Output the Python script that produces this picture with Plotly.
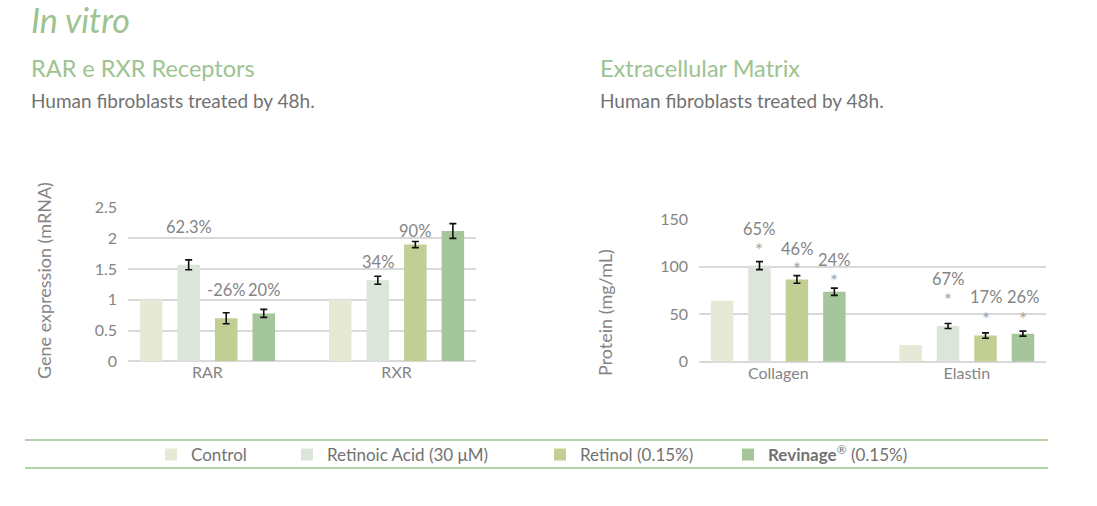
import plotly.graph_objects as go

# ---------------- data ----------------
series_names = ["Control", "Retinoic Acid (30 μM)", "Retinol (0.15%)",
                "<b>Revinage</b><sup>®</sup> (0.15%)"]
series_colors = ["#e5e9d5", "#dce5d9", "#c2cf94", "#a5c59b"]

receptor_categories = ["RAR", "RXR"]
gene_values = [
    [1.0, 1.0],      # Control
    [1.57, 1.32],    # Retinoic Acid
    [0.70, 1.90],    # Retinol
    [0.78, 2.12],    # Revinage
]
gene_errors = [
    None,
    [0.08, 0.065],
    [0.09, 0.05],
    [0.065, 0.12],
]
gene_labels = [
    [None, None],
    ["62.3%", "34%"],
    ["-26%", "90%"],
    ["20%", "119%"],
]
gene_label_y = [
    [None, None],
    [2.19, 1.62],
    [1.16, 2.12],
    [1.16, 2.855],
]

matrix_categories = ["Collagen", "Elastin"]
protein_values = [
    [64, 17.5],
    [101, 37.5],
    [86.5, 27.5],
    [73.5, 29.5],
]
protein_errors = [
    None,
    [4.2, 2.6],
    [4.0, 2.8],
    [3.8, 2.6],
]
protein_labels = [
    [None, None],
    ["65%", "67%"],
    ["46%", "17%"],
    ["24%", "26%"],
]
protein_label_y = [
    [None, None],
    [139.1, 87.2],
    [118.1, 67.6],
    [106.8, 67.6],
]
protein_star_y = [
    [None, None],
    [122.6, 70.1],
    [102.3, 50.1],
    [89.3, 50.1],
]

gene_ticks = [0, 0.5, 1, 1.5, 2, 2.5]
gene_ticktext = ["0", "0.5", "1", "1.5", "2", "2.5"]
protein_ticks = [0, 50, 100, 150]

# ---------------- styling ----------------
W, H = 1097, 506
FONT = "Lato, 'Open Sans', sans-serif"
GRAY = "#858585"
TXT = "#727272"
GREEN = "#9dc391"
GRID = "#d9d9d9"

BARGAP = 0.206
GROUPGAP = 0.4
slot = (1 - BARGAP) / 4


def px_x(x):
    return x / W


def px_y(y):
    return 1 - y / H


fig = go.Figure()

for i in range(4):
    err = dict(type="data", array=gene_errors[i], visible=True, color="#111111",
               thickness=1.6, width=3.5) if gene_errors[i] else None
    fig.add_trace(go.Bar(
        x=receptor_categories, y=gene_values[i], name=series_names[i],
        marker=dict(color=series_colors[i], line=dict(width=0)),
        error_y=err, xaxis="x", yaxis="y",
        legend="legend" if i == 0 else f"legend{i+1}",
        showlegend=True,
    ))
for i in range(4):
    err = dict(type="data", array=protein_errors[i], visible=True, color="#111111",
               thickness=1.6, width=3.5) if protein_errors[i] else None
    fig.add_trace(go.Bar(
        x=matrix_categories, y=protein_values[i], name=series_names[i],
        marker=dict(color=series_colors[i], line=dict(width=0)),
        error_y=err, xaxis="x2", yaxis="y2", showlegend=False,
    ))

annotations = []
# percentage labels
for i in range(4):
    off = (i - 1.5) * slot
    for j in range(2):
        if gene_labels[i][j]:
            annotations.append(dict(
                x=j + off, y=gene_label_y[i][j], xref="x", yref="y",
                text=gene_labels[i][j], showarrow=False,
                font=dict(family=FONT, size=16.5, color=GRAY)))
        if protein_labels[i][j]:
            annotations.append(dict(
                x=j + off, y=protein_label_y[i][j], xref="x2", yref="y2",
                text=protein_labels[i][j], showarrow=False,
                font=dict(family=FONT, size=16.5, color=GRAY)))
            annotations.append(dict(
                x=j + off, y=protein_star_y[i][j], xref="x2", yref="y2",
                text="*", showarrow=False, yshift=-4,
                font=dict(family=FONT, size=19, color="#a5a5a5")))

# titles
for x0, head in [(29, "RAR e RXR Receptors"), (598, "Extracellular Matrix")]:
    annotations.append(dict(x=px_x(x0), y=px_y(68), xref="paper", yref="paper",
                            xanchor="left", yanchor="middle", text=head, showarrow=False,
                            font=dict(family=FONT, size=23.5, color=GREEN)))
    annotations.append(dict(x=px_x(x0), y=px_y(101), xref="paper", yref="paper",
                            xanchor="left", yanchor="middle",
                            text="Human fibroblasts treated by 48h.", showarrow=False,
                            font=dict(family=FONT, size=19, color=TXT)))
annotations.append(dict(x=px_x(29), y=px_y(20), xref="paper", yref="paper",
                        xanchor="left", yanchor="middle", text="<i>In vitro</i>",
                        showarrow=False, font=dict(family=FONT, size=34, color=GREEN)))
# axis titles
annotations.append(dict(x=px_x(31), y=px_y(281), xref="paper", yref="paper",
                        text="Gene expression (mRNA)", textangle=-90, showarrow=False,
                        font=dict(family=FONT, size=18, color=GRAY)))
annotations.append(dict(x=px_x(605), y=px_y(313), xref="paper", yref="paper",
                        text="Protein (mg/mL)", textangle=-90, showarrow=False,
                        font=dict(family=FONT, size=18, color=GRAY)))

shapes = []
for yy in (440, 468):
    shapes.append(dict(type="line", xref="paper", yref="paper",
                       x0=px_x(25), x1=px_x(1048), y0=px_y(yy), y1=px_y(yy),
                       line=dict(color="#b5d3a8", width=2)))

axis_common = dict(type="category", range=[-0.42, 1.42], showgrid=False,
                   zeroline=False, showline=False, ticks="", automargin=False,
                   tickfont=dict(family=FONT, size=16, color=GRAY),
                   fixedrange=True)
yaxis_common = dict(showgrid=True, gridcolor=GRID, gridwidth=1.5, zeroline=True,
                    zerolinecolor=GRID, zerolinewidth=1.5, showline=False, ticks="",
                    automargin=False,
                    tickfont=dict(family=FONT, size=16, color=GRAY), ticklabelstandoff=10)

legend_common = dict(orientation="h", yanchor="middle", xanchor="left",
                     bgcolor="rgba(0,0,0,0)", borderwidth=0,
                     font=dict(family=FONT, size=17, color=TXT))
legend_x = [151, 287, 540, 728]

fig.update_layout(
    width=W, height=H, autosize=False,
    margin=dict(l=0, r=0, t=0, b=0, pad=0, autoexpand=False),
    paper_bgcolor="white", plot_bgcolor="white",
    barmode="group", bargap=BARGAP, bargroupgap=GROUPGAP,
    xaxis=dict(domain=[px_x(128), px_x(476)], anchor="y", **axis_common),
    yaxis=dict(domain=[px_y(361.3), px_y(207.7)], anchor="x", range=[0, 2.5],
               tickvals=gene_ticks, ticktext=gene_ticktext, **yaxis_common),
    xaxis2=dict(domain=[px_x(699), px_x(1046)], anchor="y2", **axis_common),
    yaxis2=dict(domain=[px_y(361.7), px_y(219)], anchor="x2", range=[0, 150],
                tickvals=protein_ticks, **yaxis_common),
    annotations=annotations,
    shapes=shapes,
    legend=dict(x=px_x(legend_x[0]), y=px_y(455), **legend_common),
    legend2=dict(x=px_x(legend_x[1]), y=px_y(455), **legend_common),
    legend3=dict(x=px_x(legend_x[2]), y=px_y(455), **legend_common),
    legend4=dict(x=px_x(legend_x[3]), y=px_y(455), **legend_common),
    font=dict(family=FONT),
)

fig.write_html("out.html", config={"displayModeBar": False},
               post_script="document.body.style.margin='0';")
